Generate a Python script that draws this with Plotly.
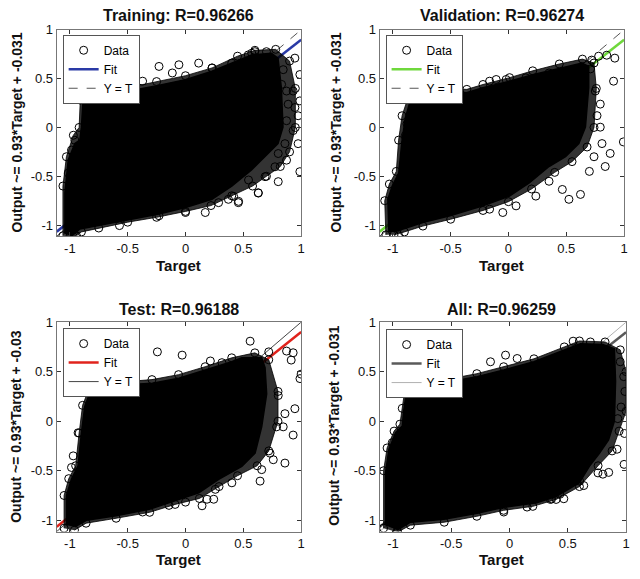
import plotly.graph_objects as go

# the page places the figure at about (+8, +13) px inside the window; compensate
OFFX, OFFY = 8, 13
W, H = 632, 566

# ---------------- data ----------------
tick_vals = [-1, -0.5, 0, 0.5, 1]
tick_text = ["-1", "-0.5", "0", "0.5", "1"]
axis_min, axis_max = -1.114, 1.0

titles = ["Training: R=0.96266", "Validation: R=0.96274", "Test: R=0.96188", "All: R=0.96259"]
ylabels = ["Output ~= 0.93*Target + -0.031", "Output ~= 0.93*Target + -0.031",
           "Output ~= 0.93*Target + -0.03", "Output ~= 0.93*Target + -0.031"]
fit_colors = ["#2a3aa6", "#6fd83c", "#e0231c", "#5a5a5a"]
yt_colors = ["#555555", "#555555", "#444444", "#b0b0b0"]

fit_x = [-1.114, 1.0]
train_fit_y = [-1.067, 0.899]
val_fit_y = [-1.067, 0.899]
test_fit_y = [-1.066, 0.900]
all_fit_y = [-1.067, 0.899]
ident_x = [-1.114, 1.0]
ident_y = [-1.114, 1.0]

# dense black cloud outlines
train_cloud_x = [-1.043, -1.043, -1.014, -0.957, -0.914, -0.900, -0.886, -0.843, -0.743, -0.457, -0.257, 0.000,
                 0.229, 0.457, 0.571, 0.743, 0.800, 0.829, 0.843, 0.800, 0.686, 0.571, 0.400, 0.229, 0.000,
                 -0.229, -0.457, -0.743, -0.914, -0.986]
train_cloud_y = [-1.089, -0.669, -0.333, -0.165, -0.131, 0.003, 0.272, 0.390, 0.400, 0.380, 0.424, 0.490,
                 0.575, 0.692, 0.743, 0.760, 0.709, 0.407, 0.003, -0.165, -0.299, -0.434, -0.602, -0.736, -0.820,
                 -0.887, -0.938, -1.005, -1.039, -1.113]
# looser ring of overlapping circles around the dense core
train_halo_x = [-1.06, -1.06, -1.03, -0.97, -0.92, -0.91, -0.86, -0.75, -0.45, -0.25, 0.00, 0.23, 0.45, 0.60, 0.78,
                0.90, 0.95, 0.95, 0.90, 0.82, 0.70, 0.58, 0.40, 0.22, 0.00, -0.25, -0.50, -0.75, -0.90, -0.97]
train_halo_y = [-1.11, -0.60, -0.30, -0.08, 0.00, 0.28, 0.42, 0.44, 0.42, 0.47, 0.53, 0.61, 0.73, 0.79, 0.80,
                0.68, 0.40, 0.00, -0.25, -0.40, -0.50, -0.60, -0.70, -0.80, -0.86, -0.92, -0.97, -1.03, -1.07, -1.12]
train_out_x = [0.573, 0.845, 0.946, 0.989, 0.931, 0.874, 0.989, 0.946, 0.974, 0.874, 0.931, 0.974, 0.860, 0.802,
               0.874, 0.989, 0.774, 0.802, 0.688, 0.630, 0.545, 0.459, 0.416, 0.745, 0.774, 0.717, 0.831, 0.888,
               -0.057, -0.229, 0.114, -0.114, -0.371, -0.686, -0.771, 0.229, 0.400, 0.543, 0.600, 0.700,
               -0.229, 0.000, 0.171, 0.286, 0.371, 0.457, 0.629, -0.571, -0.943, -0.986, -0.957, -1.014]
train_out_y = [0.760, 0.592, 0.710, 0.542, 0.373, 0.373, 0.272, 0.204, 0.120, 0.069, -0.032, -0.166, -0.166, -0.267,
               -0.335, -0.453, -0.403, -0.555, -0.504, -0.672, -0.538, -0.757, -0.706, 0.305, 0.069, -0.032, 0.441,
               0.238, 0.642, 0.625, 0.659, 0.558, 0.474, 0.424, 0.373, 0.608, 0.659, 0.743, 0.776, 0.776,
               -0.904, -0.871, -0.871, -0.770, -0.736, -0.770, -0.669, -1.005, -1.110, -0.232, -0.131, -0.467]

val_cloud_x = [-1.034, -1.043, -1.006, -0.949, -0.920, -0.891, -0.849, -0.763, -0.563, -0.363, -0.220, 0.009,
               0.209, 0.437, 0.637, 0.694, 0.694, 0.666, 0.609, 0.494, 0.351, 0.180, 0.009, -0.220, -0.506,
               -0.734, -0.906, -0.991]
val_cloud_y = [-1.072, -0.736, -0.602, -0.467, -0.131, 0.104, 0.272, 0.356, 0.373, 0.356, 0.407, 0.474,
               0.541, 0.608, 0.659, 0.625, 0.407, 0.003, -0.165, -0.299, -0.400, -0.568, -0.703, -0.803, -0.904,
               -0.971, -1.039, -1.072]
val_halo_x = [-1.06, -1.07, -1.03, -0.97, -0.95, -0.92, -0.87, -0.77, -0.56, -0.36, -0.22, 0.01, 0.21, 0.44, 0.64,
              0.74, 0.76, 0.74, 0.68, 0.55, 0.40, 0.20, 0.00, -0.22, -0.50, -0.74, -0.90, -0.99]
val_halo_y = [-1.10, -0.75, -0.58, -0.45, -0.13, 0.12, 0.30, 0.39, 0.40, 0.39, 0.44, 0.51, 0.58, 0.65, 0.70,
              0.66, 0.40, 0.00, -0.20, -0.35, -0.46, -0.63, -0.76, -0.85, -0.94, -1.01, -1.07, -1.10]
val_out_x = [0.72, 0.78, 0.85, 0.92, 0.909, 0.794, 0.751, 0.994, 0.880, 0.837, 0.809, 0.794, 0.766, 0.523, 0.623,
             0.466, 0.351, 0.237, 0.066, -0.049, -0.163, -0.949, -0.163, -0.106, -0.020, 0.151, 0.351, -0.734,
             -0.877, -0.891, -0.691, 0.70, 0.74, 0.71]
val_out_y = [0.69, 0.73, 0.74, 0.71, 0.474, 0.239, 0.373, -0.148, -0.266, -0.400, -0.165, 0.003, 0.121, -0.736,
             -0.686, -0.635, -0.551, -0.703, -0.803, -0.871, -0.837, -1.110, 0.474, 0.491, 0.491, 0.508, 0.558, 0.306,
             0.037, -0.081, 0.457, -0.45, -0.30, 0.60]

test_cloud_x = [-1.029, -1.029, -0.986, -0.929, -0.900, -0.871, -0.829, -0.743, -0.514, -0.286, -0.057, 0.171,
                0.400, 0.487, 0.659, 0.688, 0.702, 0.659, 0.602, 0.487, 0.287, 0.115, -0.086, -0.314, -0.600,
                -0.857, -0.957]
test_cloud_y = [-1.050, -0.750, -0.583, -0.450, -0.117, 0.150, 0.283, 0.350, 0.367, 0.383, 0.433, 0.517,
                0.600, 0.641, 0.641, 0.541, 0.275, -0.057, -0.323, -0.456, -0.588, -0.722, -0.800, -0.890, -0.955,
                -1.000, -1.067]
test_halo_x = [-1.05, -1.05, -1.01, -0.95, -0.92, -0.89, -0.84, -0.74, -0.51, -0.29, -0.06, 0.17, 0.40, 0.60,
               0.72, 0.80, 0.80, 0.72, 0.62, 0.45, 0.29, 0.12, -0.09, -0.31, -0.60, -0.86, -0.96]
test_halo_y = [-1.08, -0.75, -0.58, -0.45, -0.12, 0.16, 0.31, 0.39, 0.40, 0.42, 0.47, 0.55, 0.64, 0.69,
               0.62, 0.30, 0.00, -0.30, -0.45, -0.55, -0.66, -0.78, -0.84, -0.92, -0.98, -1.03, -1.10]
test_out_x = [0.559, 0.215, 0.315, 0.874, 0.931, 1.000, 0.802, 0.946, 0.860, 0.788, 0.845, 0.931, 0.731, 0.759,
              0.860, 0.659, 0.645, 0.401, 0.258, 0.244, 0.186, 0.143, -0.029, -0.243, 0.000, -0.143, -0.371,
              -0.929, -0.971, -0.986, -0.743, -0.514, -0.543, 0.914, 0.72, 0.99]
test_out_y = [0.808, 0.608, 0.591, 0.708, 0.691, 0.475, 0.259, 0.126, 0.076, -0.057, -0.057, -0.140, -0.323, -0.389,
              -0.423, -0.489, -0.605, -0.622, -0.688, -0.788, -0.788, -0.854, 0.667, 0.700, -0.817, -0.850, -0.917,
              -0.117, -0.350, -0.467, 0.417, 0.450, 0.383, 0.617, 0.70, 0.43]

all_cloud_x = [-1.063, -1.063, -1.034, -0.977, -0.920, -0.906, -0.877, -0.820, -0.506, -0.277, -0.049, 0.209,
               0.466, 0.609, 0.800, 0.900, 0.910, 0.900, 0.850, 0.770, 0.685, 0.600, 0.400, 0.233, -0.049, -0.277,
               -0.563, -0.849, -0.963]
all_cloud_y = [-1.050, -0.517, -0.283, -0.117, -0.050, 0.117, 0.350, 0.417, 0.400, 0.450, 0.517, 0.600,
               0.717, 0.783, 0.774, 0.730, 0.400, 0.000, -0.190, -0.326, -0.456, -0.620, -0.760, -0.824, -0.870,
               -0.930, -0.990, -1.020, -1.100]
all_halo_x = [-1.08, -1.08, -1.05, -0.99, -0.94, -0.92, -0.89, -0.82, -0.50, -0.28, -0.05, 0.21, 0.47, 0.60, 0.82,
              0.95, 1.00, 1.00, 0.94, 0.88, 0.76, 0.60, 0.40, 0.20, -0.05, -0.28, -0.56, -0.85, -0.96]
all_halo_y = [-1.08, -0.50, -0.27, -0.10, -0.03, 0.13, 0.38, 0.45, 0.43, 0.48, 0.55, 0.63, 0.75, 0.81, 0.80,
              0.72, 0.50, 0.10, -0.10, -0.30, -0.45, -0.66, -0.79, -0.86, -0.90, -0.96, -1.02, -1.05, -1.12]
all_out_x = [0.983, 0.801, 0.759, 0.602, 0.432, 0.361, 0.546, 0.986, 0.929, 0.957, 0.637, 0.466, 0.351, 0.151,
             -0.049, 0.694, -0.034, -0.163, 0.066, -0.963, -1.006, -1.006, 0.923, 0.851, 0.98, 0.95, 0.99]
all_out_y = [-0.436, -0.535, -0.522, -0.605, -0.738, -0.785, 0.808, -0.124, 0.026, 0.143, -0.650, -0.783, -0.790,
             -0.867, -0.917, 0.800, 0.667, 0.600, 0.633, -1.110, -0.217, -0.483, -0.283, -0.517, 0.45, 0.60, 0.30]

panels = [
    (train_halo_x, train_halo_y, train_cloud_x, train_cloud_y, train_out_x, train_out_y, train_fit_y),
    (val_halo_x, val_halo_y, val_cloud_x, val_cloud_y, val_out_x, val_out_y, val_fit_y),
    (test_halo_x, test_halo_y, test_cloud_x, test_cloud_y, test_out_x, test_out_y, test_fit_y),
    (all_halo_x, all_halo_y, all_cloud_x, all_cloud_y, all_out_x, all_out_y, all_fit_y),
]

# ---------------- layout (reference-window pixels) ----------------
def px(x):
    return (x - OFFX) / W

def py(y):
    return 1 - (y - OFFY) / H

boxes = [(57, 303, 28, 237), (382, 628, 28, 237), (57, 303, 324, 536), (382, 630, 324, 536)]
title_pos = [(180, 14), (505, 14), (180, 311), (505, 311)]
ylab_pos = [(17, 132), (338, 132), (16, 429), (336, 429)]
xlab_pos = [(180, 267), (505, 267), (180, 564), (505, 564)]
leg_pos = [(63, 33), (388, 33), (63, 330), (388, 331)]

FONT = "Liberation Sans, Arial, sans-serif"
circle = dict(symbol="circle-open", size=8, color="black", line=dict(width=1))
fig = go.Figure()
annotations = []

for i, (hx, hy, cx, cy, ox, oy, fy) in enumerate(panels):
    n = "" if i == 0 else str(i + 1)
    xa, ya = "x" + n, "y" + n
    leg = "legend" + n
    fig.add_trace(go.Scatter(x=ident_x, y=ident_y, mode="lines", name="Y = T", xaxis=xa, yaxis=ya,
                             line=dict(color=yt_colors[i], width=1, dash="dash" if i < 2 else "solid"),
                             legend=leg, legendrank=3))
    fig.add_trace(go.Scatter(x=fit_x, y=fy, mode="lines", name="Fit", xaxis=xa, yaxis=ya,
                             line=dict(color=fit_colors[i], width=2.5), legend=leg, legendrank=2))
    fig.add_trace(go.Scatter(x=hx, y=hy, mode="lines+markers", fill="toself", fillcolor="rgba(0,0,0,0.8)",
                             line=dict(color="rgba(0,0,0,0.8)", width=1), marker=circle,
                             xaxis=xa, yaxis=ya, showlegend=False, legend=leg, hoverinfo="skip"))
    fig.add_trace(go.Scatter(x=cx, y=cy, mode="lines", fill="toself", fillcolor="black",
                             line=dict(color="black", width=1.5),
                             xaxis=xa, yaxis=ya, showlegend=False, legend=leg, hoverinfo="skip"))
    fig.add_trace(go.Scatter(x=ox, y=oy, mode="markers", name="Data", xaxis=xa, yaxis=ya,
                             marker=circle, legend=leg, legendrank=1))

    x0, x1, y0, y1 = boxes[i]
    axcommon = dict(range=[axis_min, axis_max], tickvals=tick_vals, ticktext=tick_text, ticks="inside",
                    ticklen=4, tickcolor="#333", showline=True, linecolor="#777", linewidth=1, mirror="ticks",
                    showgrid=False, zeroline=False, tickfont=dict(family=FONT, size=13, color="#111"))
    fig.layout["xaxis" + n] = dict(domain=[px(x0), px(x1)], anchor=ya, **axcommon)
    fig.layout["yaxis" + n] = dict(domain=[py(y1), py(y0)], anchor=xa, **axcommon)

    lx, ly = leg_pos[i]
    fig.layout[leg] = dict(x=px(lx), y=py(ly), xanchor="left", yanchor="top", bgcolor="white",
                           bordercolor="#555", borderwidth=1, font=dict(family=FONT, size=12, color="black"),
                           tracegroupgap=0, itemwidth=30)

    tx, ty = title_pos[i]
    annotations.append(dict(text="<b>%s</b>" % titles[i], x=px(tx), y=py(ty), xref="paper", yref="paper",
                            showarrow=False, xanchor="center", yanchor="middle",
                            font=dict(family=FONT, size=16, color="#111")))
    ax_, ay_ = ylab_pos[i]
    annotations.append(dict(text="<b>%s</b>" % ylabels[i], x=px(ax_), y=py(ay_), xref="paper", yref="paper",
                            showarrow=False, textangle=-90, xanchor="center", yanchor="middle",
                            font=dict(family=FONT, size=14, color="#111")))
    bx, by = xlab_pos[i]
    annotations.append(dict(text="<b>Target</b>", x=px(bx), y=py(by), xref="paper", yref="paper",
                            showarrow=False, xanchor="center", yanchor="middle",
                            font=dict(family=FONT, size=15, color="#111")))

fig.update_layout(width=W, height=H, margin=dict(l=0, r=0, t=0, b=0), plot_bgcolor="white",
                  paper_bgcolor="white", annotations=annotations, showlegend=True)

fig.write_html("out.html")
